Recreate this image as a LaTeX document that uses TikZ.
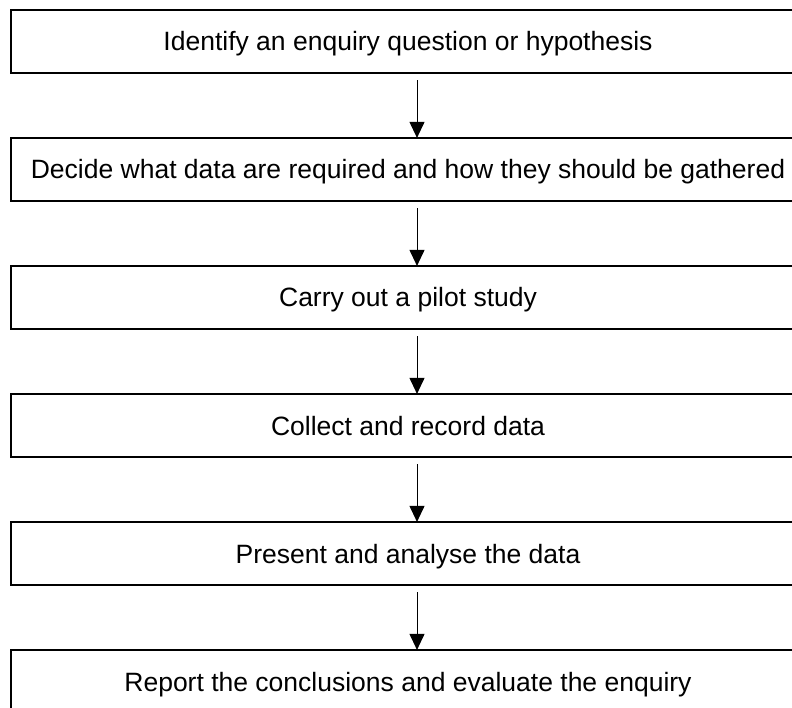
\documentclass[tikz,border=0pt]{standalone}
\usepackage{fontspec}
\setmainfont{Liberation Sans}
\usetikzlibrary{arrows.meta}
\tikzset{
  stagebox/.style={draw=black, line width=2.2pt, rectangle, inner sep=0pt,
    minimum width=794pt, minimum height=63pt, text height=19pt, text depth=0pt,
    font=\fontsize{26.5}{32}\selectfont},
  flowarrow/.style={line width=1pt, -{Triangle[width=15pt,length=16pt]}}
}
\begin{document}
\begin{tikzpicture}[x=1pt,y=-1pt]
\useasboundingbox (0,0) rectangle (792,708);
\clip (0,0) rectangle (792,708);
\node[stagebox] (b1) at (408,41.5) {Identify an enquiry question or hypothesis};
\node[stagebox] (b2) at (408,169.5) {Decide what data are required and how they should be gathered};
\node[stagebox] (b3) at (408,297.5) {Carry out a pilot study};
\node[stagebox] (b4) at (408,425.5) {Collect and record data};
\node[stagebox] (b5) at (408,553.5) {Present and analyse the data};
\node[stagebox] (b6) at (408,681.5) {Report the conclusions and evaluate the enquiry};
\foreach \a/\b in {b1/b2,b2/b3,b3/b4,b4/b5,b5/b6}{
  \draw[flowarrow] ([xshift=9pt,yshift=-6pt]\a.south) -- ([xshift=9pt,yshift=-1pt]\b.north);
}
\end{tikzpicture}
\end{document}
